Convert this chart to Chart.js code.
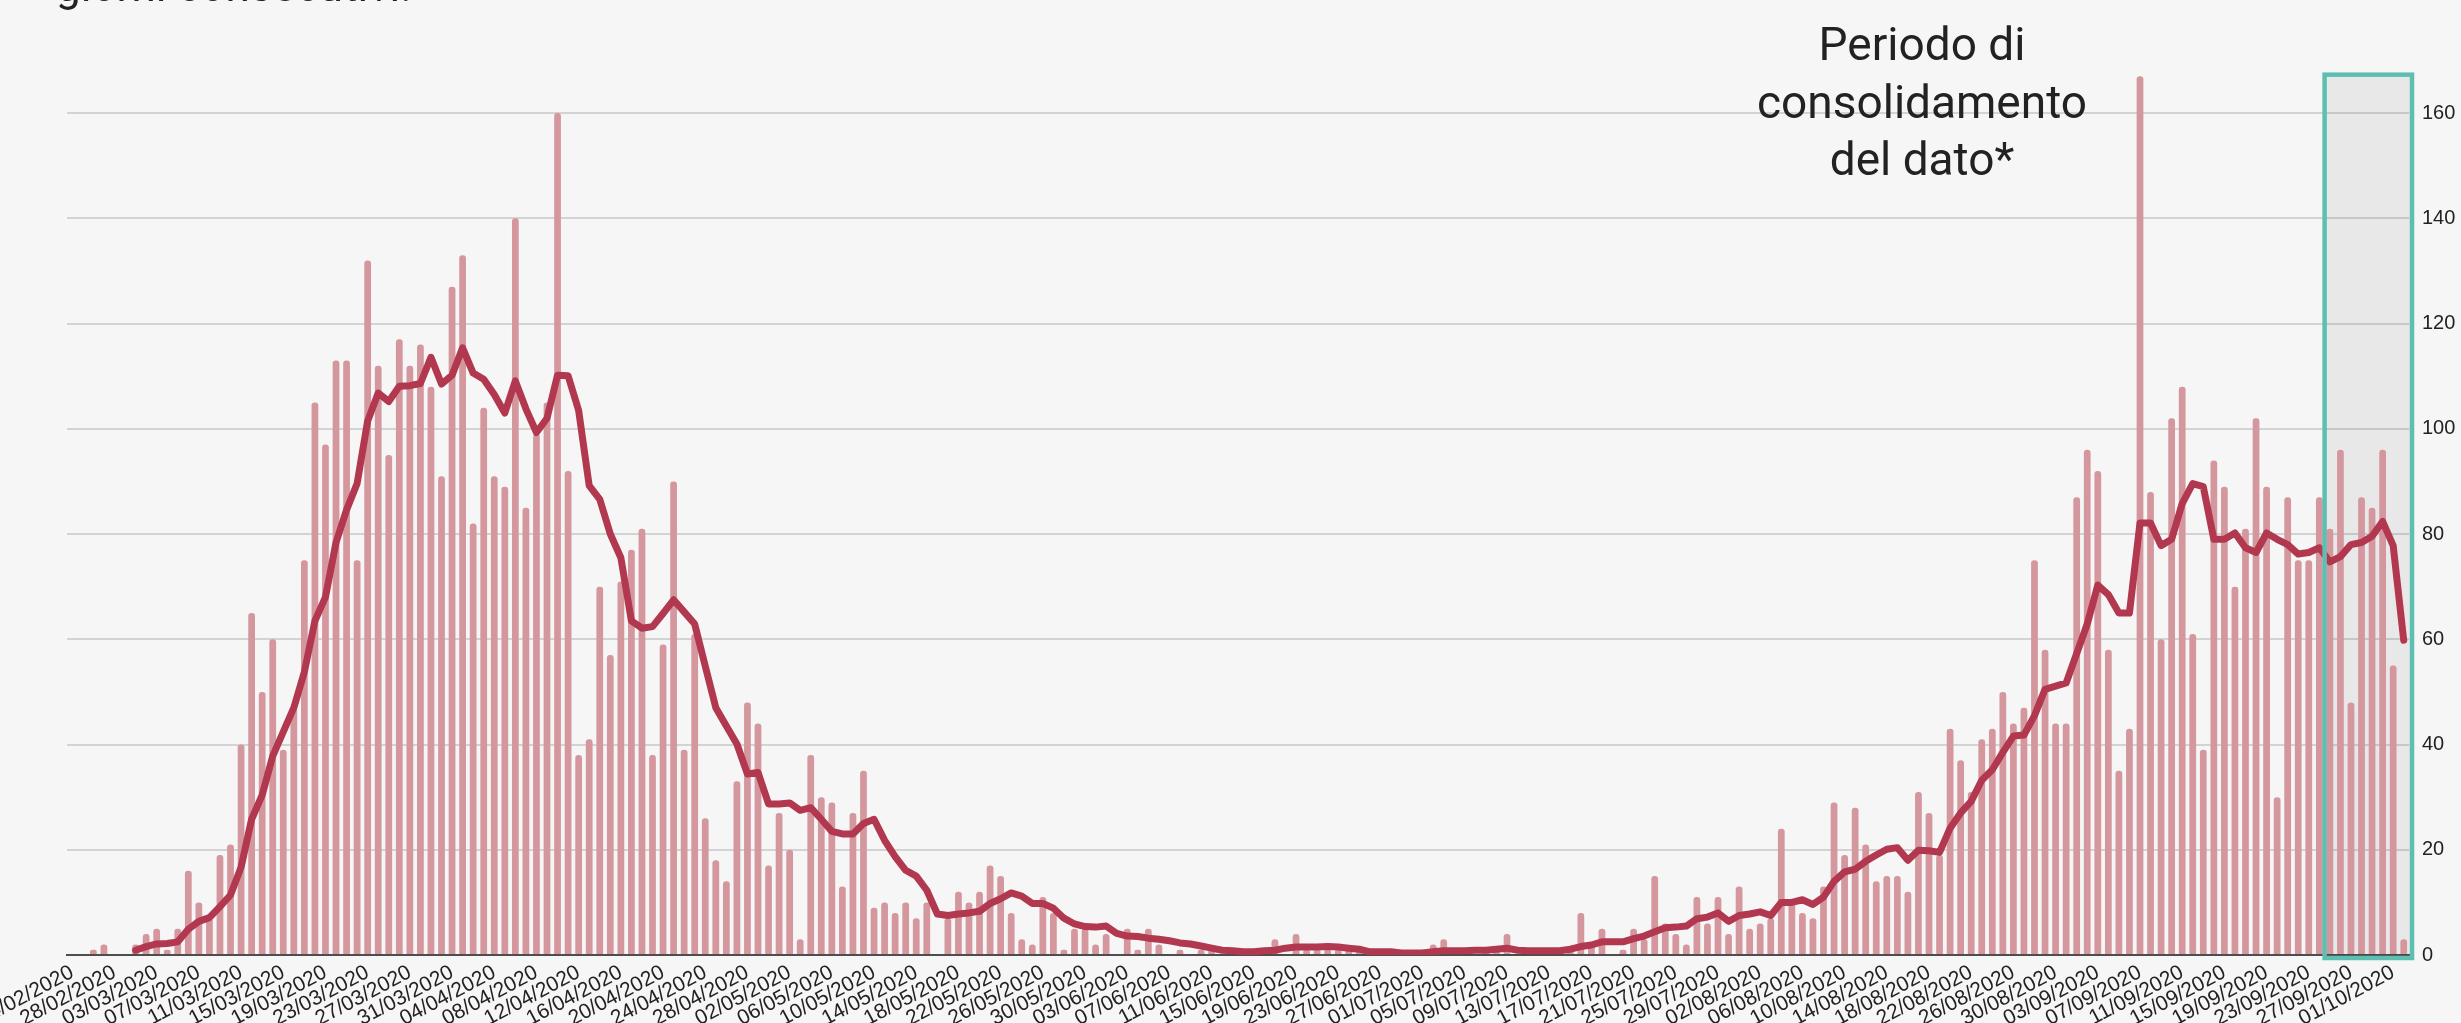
<!DOCTYPE html>
<html>
<head>
<meta charset="utf-8">
<script src="https://cdn.jsdelivr.net/npm/chart.js@4.4.1/dist/chart.umd.min.js"></script>
<style>
  html, body { margin: 0; padding: 0; background: #f6f6f6; overflow: hidden; }
  #wrap { position: relative; width: 2461px; height: 1023px; }
  canvas { position: absolute; left: 0; top: 0; }
  .title { position: absolute; left: 56px; top: -40px; font-family: Roboto, sans-serif; font-size: 44px; color: #222; white-space: nowrap; line-height: 52px; }
  .note { position: absolute; left: 1722px; top: 16px; width: 400px; text-align: center; font-family: Roboto, sans-serif; font-size: 46px; line-height: 57.5px; color: #222; }
</style>
</head>
<body>
<div id="wrap">
  <canvas id="c" width="2461" height="1023"></canvas>
  <div class="title">giorni consecutivi.</div>
  <div class="note">Periodo di<br>consolidamento<br>del dato*</div>
</div>
<script>
// Categories: one per day, 24/02/2020 .. 02/10/2020
const dates = [
 "24/02/2020","25/02/2020","26/02/2020","27/02/2020","28/02/2020","29/02/2020",
 "01/03/2020","02/03/2020","03/03/2020","04/03/2020","05/03/2020","06/03/2020","07/03/2020","08/03/2020","09/03/2020","10/03/2020",
 "11/03/2020","12/03/2020","13/03/2020","14/03/2020","15/03/2020","16/03/2020","17/03/2020","18/03/2020","19/03/2020","20/03/2020",
 "21/03/2020","22/03/2020","23/03/2020","24/03/2020","25/03/2020","26/03/2020","27/03/2020","28/03/2020","29/03/2020","30/03/2020","31/03/2020",
 "01/04/2020","02/04/2020","03/04/2020","04/04/2020","05/04/2020","06/04/2020","07/04/2020","08/04/2020","09/04/2020","10/04/2020",
 "11/04/2020","12/04/2020","13/04/2020","14/04/2020","15/04/2020","16/04/2020","17/04/2020","18/04/2020","19/04/2020","20/04/2020",
 "21/04/2020","22/04/2020","23/04/2020","24/04/2020","25/04/2020","26/04/2020","27/04/2020","28/04/2020","29/04/2020","30/04/2020",
 "01/05/2020","02/05/2020","03/05/2020","04/05/2020","05/05/2020","06/05/2020","07/05/2020","08/05/2020","09/05/2020","10/05/2020",
 "11/05/2020","12/05/2020","13/05/2020","14/05/2020","15/05/2020","16/05/2020","17/05/2020","18/05/2020","19/05/2020","20/05/2020",
 "21/05/2020","22/05/2020","23/05/2020","24/05/2020","25/05/2020","26/05/2020","27/05/2020","28/05/2020","29/05/2020","30/05/2020","31/05/2020",
 "01/06/2020","02/06/2020","03/06/2020","04/06/2020","05/06/2020","06/06/2020","07/06/2020","08/06/2020","09/06/2020","10/06/2020",
 "11/06/2020","12/06/2020","13/06/2020","14/06/2020","15/06/2020","16/06/2020","17/06/2020","18/06/2020","19/06/2020","20/06/2020",
 "21/06/2020","22/06/2020","23/06/2020","24/06/2020","25/06/2020","26/06/2020","27/06/2020","28/06/2020","29/06/2020","30/06/2020",
 "01/07/2020","02/07/2020","03/07/2020","04/07/2020","05/07/2020","06/07/2020","07/07/2020","08/07/2020","09/07/2020","10/07/2020",
 "11/07/2020","12/07/2020","13/07/2020","14/07/2020","15/07/2020","16/07/2020","17/07/2020","18/07/2020","19/07/2020","20/07/2020",
 "21/07/2020","22/07/2020","23/07/2020","24/07/2020","25/07/2020","26/07/2020","27/07/2020","28/07/2020","29/07/2020","30/07/2020","31/07/2020",
 "01/08/2020","02/08/2020","03/08/2020","04/08/2020","05/08/2020","06/08/2020","07/08/2020","08/08/2020","09/08/2020","10/08/2020",
 "11/08/2020","12/08/2020","13/08/2020","14/08/2020","15/08/2020","16/08/2020","17/08/2020","18/08/2020","19/08/2020","20/08/2020",
 "21/08/2020","22/08/2020","23/08/2020","24/08/2020","25/08/2020","26/08/2020","27/08/2020","28/08/2020","29/08/2020","30/08/2020","31/08/2020",
 "01/09/2020","02/09/2020","03/09/2020","04/09/2020","05/09/2020","06/09/2020","07/09/2020","08/09/2020","09/09/2020","10/09/2020",
 "11/09/2020","12/09/2020","13/09/2020","14/09/2020","15/09/2020","16/09/2020","17/09/2020","18/09/2020","19/09/2020","20/09/2020",
 "21/09/2020","22/09/2020","23/09/2020","24/09/2020","25/09/2020","26/09/2020","27/09/2020","28/09/2020","29/09/2020","30/09/2020",
 "01/10/2020","02/10/2020"
];

// Daily values (bars)
const daily = [
 0,0,1,2,0,0,
 2,4,5,1,5,16,10,7,19,21,
 40,65,50,60,39,47,75,105,97,113,
 113,75,132,112,95,117,112,116,108,91,127,
 133,82,104,91,89,140,85,99,105,160,
 92,38,41,70,57,71,77,81,38,59,
 90,39,61,26,18,14,33,48,44,17,
 27,20,3,38,30,29,13,27,35,9,
 10,8,10,7,10,0,7,12,10,12,
 17,15,8,3,2,11,8,1,5,5,2,
 4,0,5,1,5,2,0,1,0,1,
 1,0,0,0,0,1,3,0,4,1,
 1,1,1,1,1,0,0,0,0,0,
 1,2,3,0,1,0,1,1,4,0,
 1,0,0,1,1,8,2,5,0,1,
 5,3,15,6,4,2,11,6,11,4,13,
 5,6,7,24,10,8,7,13,29,19,
 28,21,14,15,15,12,31,27,19,43,
 37,31,41,43,50,44,47,75,58,44,44,
 87,96,92,58,35,43,167,88,60,102,
 108,61,39,94,89,70,81,102,89,30,
 87,75,75,87,81,96,48,87,85,96,
 55,3
];

// 7-day average line
const average = [
 null,null,null,null,null,null,
 0.9,1.6,2.1,2.2,2.5,4.9,6.4,7.1,9.2,11.4,
 16.7,25.8,30.4,37.8,42.4,47,53.8,63.5,68,78.4,
 84.6,89.6,101.5,106.8,105.2,108.1,108.2,108.6,113.6,108.5,110.2,
 115.4,110.6,109.4,106.5,103,109.1,103.8,99.3,102,110.2,
 110.1,103.5,89.2,86.6,80,75.5,63.5,62.1,62.4,64.9,
 67.5,65.2,62.9,54.9,47,43.5,40.1,34.4,34.7,28.7,
 28.7,28.9,27.5,28,25.8,23.5,23,23,25,25.8,
 21.8,18.7,16.1,15,12.3,7.8,7.5,7.8,8,8.3,
 9.8,10.7,11.8,11.2,9.8,9.8,8.9,7,5.9,5.4,5.3,
 5.5,4.1,3.6,3.5,3.2,3,2.7,2.3,2.1,1.7,
 1.3,0.9,0.8,0.6,0.6,0.8,0.9,1.3,1.5,1.5,
 1.5,1.6,1.5,1.3,1.1,0.6,0.6,0.6,0.4,0.4,
 0.4,0.6,0.8,0.8,0.8,0.9,0.9,1.1,1.3,0.9,
 0.8,0.8,0.8,0.8,1.1,1.6,1.9,2.5,2.5,2.5,
 3.1,3.6,4.4,5.2,5.3,5.5,6.9,7.2,8,6.4,7.5,
 7.8,8.2,7.5,10,10,10.5,9.6,11,14,15.8,
 16.3,17.8,19,20.1,20.4,18,19.9,19.8,19.5,24.1,
 27,29.2,33.2,35.2,38.5,41.6,41.8,45.5,50.5,51.1,51.7,
 57.3,62.9,70.3,68.5,65,65,82.1,82.1,77.8,79,
 85.8,89.6,89,79,79,80.2,77.4,76.5,80.2,79,
 78,76.2,76.5,77.4,74.7,75.7,78,78.4,79.6,82.4,
 77.8,59.8
];

// Axis settings
const yTicks = [0, 20, 40, 60, 80, 100, 120, 140, 160];
const yMax = 168;
const labelEvery = 4;
const consolidationStart = "25/09/2020";
const consolidationTopValue = 167.3;

const consolidationBox = {
  id: 'consolidationBox',
  beforeDatasetsDraw(chart) {
    const r = boxRect(chart);
    const ctx = chart.ctx;
    ctx.save();
    ctx.fillStyle = 'rgba(0,0,0,0.055)';
    ctx.fillRect(r.x1, r.y1, r.x2 - r.x1, r.y2 - r.y1);
    ctx.restore();
  },
  afterDatasetsDraw(chart) {
    const r = boxRect(chart);
    const ctx = chart.ctx;
    ctx.save();
    ctx.strokeStyle = '#5dbfb1';
    ctx.lineWidth = 4.5;
    ctx.strokeRect(r.x1, r.y1, r.x2 - r.x1, r.y2 - r.y1);
    ctx.restore();
  }
};
function boxRect(chart) {
  const xs = chart.scales.x, ys = chart.scales.y;
  const i = dates.indexOf(consolidationStart);
  const half = (xs.getPixelForValue(1) - xs.getPixelForValue(0)) / 2;
  return {
    x1: xs.getPixelForValue(i) - half,
    x2: xs.getPixelForValue(dates.length - 1) + half + 3,
    y1: ys.getPixelForValue(consolidationTopValue),
    y2: ys.getPixelForValue(0) + 3
  };
}

new Chart(document.getElementById('c'), {
  data: {
    labels: dates,
    datasets: [
      {
        type: 'line',
        data: average,
        borderColor: '#b2384f',
        borderWidth: 7,
        pointRadius: 0,
        tension: 0,
        borderJoinStyle: 'round',
        borderCapStyle: 'round',
        spanGaps: false,
        order: 0
      },
      {
        type: 'bar',
        data: daily,
        backgroundColor: '#d4979e',
        borderRadius: 3,
        categoryPercentage: 1,
        barPercentage: 0.64,
        order: 1
      }
    ]
  },
  plugins: [consolidationBox],
  options: {
    responsive: false,
    devicePixelRatio: 1,
    animation: false,
    layout: { padding: { left: 67, top: 71, right: 0, bottom: 0 } },
    plugins: { legend: { display: false }, tooltip: { enabled: false } },
    scales: {
      x: {
        type: 'category',
        offset: true,
        grid: { display: false, drawTicks: false },
        border: { display: true, color: '#4d4d4d', width: 2 },
        ticks: {
          autoSkip: false,
          minRotation: 28,
          maxRotation: 28,
          padding: 5,
          color: '#222',
          font: { family: 'Liberation Sans', size: 21 },
          callback: function(v, i) { return i % labelEvery === 0 ? this.getLabelForValue(v) : ''; }
        },
        afterFit(s) { s.height = 68; s.paddingLeft = 0; s.paddingRight = 0; }
      },
      y: {
        position: 'right',
        min: 0,
        max: yMax,
        grid: {
          drawTicks: false,
          lineWidth: 2,
          color: c => (c.tick && c.tick.value === 0) ? 'rgba(0,0,0,0)' : '#d3d3d3'
        },
        border: { display: false },
        ticks: {
          stepSize: 20,
          padding: 13,
          color: '#222',
          font: { family: 'Liberation Sans', size: 20 }
        },
        afterBuildTicks(s) { s.ticks = yTicks.map(v => ({ value: v })); },
        afterFit(s) { s.width = 52; s.paddingTop = 0; s.paddingBottom = 0; }
      }
    }
  }
});
</script>
</body>
</html>
